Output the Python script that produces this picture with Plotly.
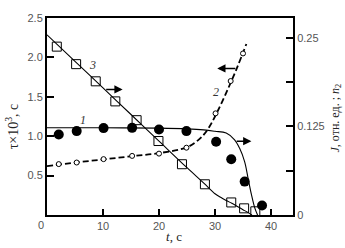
import plotly.graph_objects as go

# ---- data ----
# curve 1: filled circles (right axis, J)
c1_x = [2.1, 5.3, 10.1, 15.2, 20.0, 24.9, 30.2, 32.9, 35.3, 38.4]
c1_y = [0.1135, 0.1183, 0.1225, 0.1229, 0.1205, 0.1183, 0.1033, 0.0786, 0.0471, 0.0135]
fit1_x = [0, 10, 20, 25, 28, 30, 32, 33.5, 34.4, 35.3, 35.9, 36.5, 37.1, 37.6]
fit1_y = [0.123, 0.123, 0.1225, 0.1215, 0.120, 0.118, 0.1155, 0.106, 0.094, 0.075, 0.052, 0.029, 0.010, 0.0]

# curve 2: small open circles (left axis, tau)
c2_x = [2.1, 5.3, 10.1, 15.2, 20.0, 24.9, 30.1, 32.8, 35.0]
c2_y = [0.646, 0.666, 0.709, 0.75, 0.779, 0.854, 1.29, 1.70, 2.05]
fit2_x = [0, 5, 10, 15, 20, 25, 27, 28, 29, 30, 32, 34, 35.6]
fit2_y = [0.62, 0.665, 0.705, 0.745, 0.785, 0.86, 0.95, 1.02, 1.12, 1.25, 1.55, 1.88, 2.17]

# curve 3: open squares (right axis)
c3_x = [1.75, 5.2, 8.7, 12.2, 16.0, 19.9, 24.1, 28.2, 32.9, 35.2, 37.2]
c3_y = [0.2374, 0.2127, 0.1885, 0.1602, 0.1337, 0.1043, 0.0716, 0.0433, 0.0177, 0.0094, 0.0052]
fit3_x = [0, 5, 10, 15, 20, 25, 28, 30, 31, 32, 33, 34, 35, 36, 36.6]
fit3_y = [0.254, 0.2167, 0.1792, 0.1417, 0.1042, 0.0667, 0.045, 0.030, 0.025, 0.0205, 0.0165, 0.012, 0.0075, 0.003, 0.0]

x_ticks = [10, 20, 30, 40]
y_ticks = [0.5, 1.0, 1.5, 2.0, 2.5]
y_tick_text = ["0.5", "1.0", "1.5", "2.0", "2.5"]
y2_ticks = [0, 0.0625, 0.125, 0.1875, 0.25]
y2_tick_text = ["0", "", "0.125", "", "0.25"]

W, H = 345, 248
L, R, T, B = 47, 52, 15, 33
pw, ph = W - L - R, H - T - B

def px(xp):
    return (xp - L) / pw

def py(yp):
    return (H - B - yp) / ph

fig = go.Figure()

fig.add_trace(go.Scatter(x=fit2_x, y=fit2_y, mode="lines", yaxis="y",
                         line=dict(color="black", width=1.8, dash="6px,3px", shape="spline"),
                         showlegend=False, hoverinfo="skip"))
fig.add_trace(go.Scatter(x=fit1_x, y=fit1_y, mode="lines", yaxis="y2",
                         line=dict(color="black", width=1.1, shape="spline"),
                         showlegend=False, hoverinfo="skip"))
fig.add_trace(go.Scatter(x=fit3_x, y=fit3_y, mode="lines", yaxis="y2",
                         line=dict(color="black", width=1.1, shape="spline"),
                         showlegend=False, hoverinfo="skip"))

fig.add_trace(go.Scatter(x=c2_x, y=c2_y, mode="markers", yaxis="y",
                         marker=dict(symbol="circle", size=5, color="white",
                                     line=dict(color="black", width=1)),
                         showlegend=False))
fig.add_trace(go.Scatter(x=c1_x, y=c1_y, mode="markers", yaxis="y2",
                         marker=dict(symbol="circle", size=10, color="black"),
                         showlegend=False))
fig.add_trace(go.Scatter(x=c3_x, y=c3_y, mode="markers", yaxis="y2",
                         marker=dict(symbol="square", size=9, color="rgba(255,255,255,0)",
                                     line=dict(color="black", width=1)),
                         showlegend=False))

tickfont = dict(family="Liberation Sans, Arial, sans-serif", size=11, color="#555555")
serif = "Liberation Serif, Times New Roman, serif"

fig.update_layout(
    width=W, height=H,
    margin=dict(l=L, r=R, t=T, b=B, pad=0),
    paper_bgcolor="white", plot_bgcolor="white",
    xaxis=dict(range=[0, pw / 5.6], tickvals=x_ticks, ticks="inside", ticklen=6, tickwidth=1.5,
               tickcolor="black", showline=True, linecolor="black", linewidth=2, mirror=True,
               showgrid=False, zeroline=False, tickfont=tickfont),
    yaxis=dict(range=[0, 2.5], tickvals=y_ticks, ticktext=y_tick_text, ticks="inside", ticklen=7,
               tickwidth=1.5, tickcolor="black", showline=True, linecolor="black", linewidth=2,
               showgrid=False, zeroline=False, tickfont=tickfont),
    yaxis2=dict(range=[0, 0.25 * 200 / 180], overlaying="y", side="right", tickvals=y2_ticks,
                ticktext=y2_tick_text, ticks="inside", ticklen=7, tickwidth=1.5, tickcolor="black",
                showline=True, linecolor="black", linewidth=2, showgrid=False, zeroline=False,
                tickfont=tickfont),
)

ann = []
c = dict(xanchor="center", yanchor="middle", showarrow=False)
# origin label
ann.append(dict(xref="paper", yref="paper", x=px(40.7), y=py(225), text="0", font=tickfont, **c))
# axis titles
ann.append(dict(xref="paper", yref="paper", x=px(12), y=py(125), textangle=-90,
                text="τ×10<sup>3</sup>, с", font=dict(family=serif, size=14, color="#222"), **c))
ann.append(dict(xref="paper", yref="paper", x=px(174), y=py(237),
                text="<i>t</i>, с", font=dict(family=serif, size=13, color="#222"), **c))
ann.append(dict(xref="paper", yref="paper", x=px(336), y=py(117), textangle=-90,
                text="<i>J</i>, отн. ед. ; <i>n</i><sub>2</sub>",
                font=dict(family=serif, size=12, color="#222"), **c))
# curve labels
lab = dict(family=serif, size=12, color="#333")
ann.append(dict(xref="x", yref="y2", x=8.2, y=0.211, text="<i>3</i>", font=lab, **c))
ann.append(dict(xref="x", yref="y2", x=6.4, y=0.134, text="<i>1</i>", font=lab, **c))
ann.append(dict(xref="x", yref="y", x=30.1, y=1.56, text="<i>2</i>", font=lab, **c))
# arrows
arrow = dict(showarrow=True, text="", arrowhead=2, arrowsize=1.1, arrowwidth=1.5, arrowcolor="black")
ann.append(dict(xref="x", yref="y2", axref="x", ayref="y2", x=13.5, y=0.177, ax=10.3, ay=0.177, **arrow))
ann.append(dict(xref="x", yref="y2", axref="x", ayref="y2", x=36.5, y=0.104, ax=33.6, ay=0.104, **arrow))
ann.append(dict(xref="x", yref="y", axref="x", ayref="y", x=30.4, y=1.86, ax=33.9, ay=1.86, **arrow))

fig.update_layout(annotations=ann)
fig.write_html("out.html")
